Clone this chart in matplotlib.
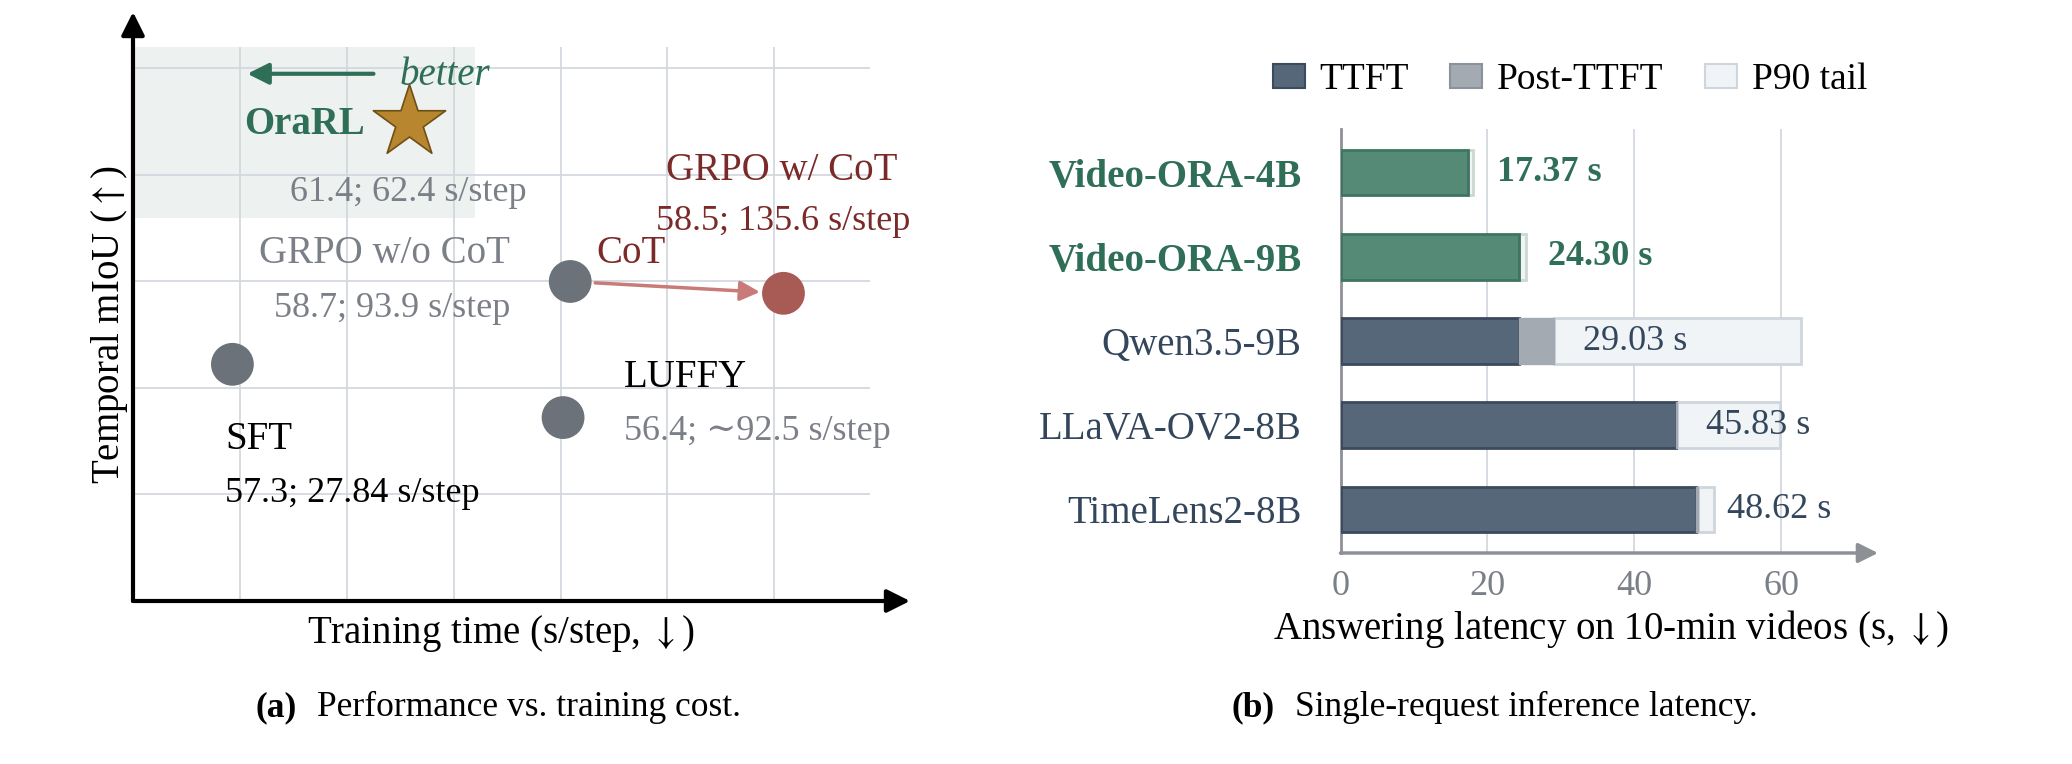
import matplotlib
matplotlib.use("Agg")
import matplotlib.pyplot as plt
import numpy as np

plt.rcParams['font.family'] = ['Liberation Serif', 'DejaVu Serif']
plt.rcParams['mathtext.fontset'] = 'stix'

# ---- (a) performance vs. training cost ----
methods = ['SFT', 'GRPO w/o CoT', 'LUFFY', 'GRPO w/ CoT', 'OraRL']
train_time = [27.84, 93.9, 92.5, 135.6, 62.4]
miou = [57.3, 58.7, 56.4, 58.5, 61.4]
time_labels = ['27.84', '93.9', '\u223c92.5', '135.6', '62.4']

# ---- (b) inference latency ----
models = ['Video-ORA-4B', 'Video-ORA-9B', 'Qwen3.5-9B', 'LLaVA-OV2-8B', 'TimeLens2-8B']
ours = [True, True, False, False, False]
ttft = [17.2, 24.1, 24.3, 45.7, 48.4]
post_ttft = [0.17, 0.2, 4.73, 0.13, 0.22]
p90_end = [18.0, 25.2, 62.7, 59.9, 50.9]
totals = [17.37, 24.30, 29.03, 45.83, 48.62]

GREEN = '#2f6f57'
GREY_TXT = '#7b7f87'
RED_TXT = '#7a2a28'
SLATE = '#33465c'

fig = plt.figure(figsize=(20.72, 7.64), dpi=100)

# grid geometry of panel (a): one grid cell = dx seconds, dy mIoU
x0, dx = 8.4, 20.9
y0, dy = 53.3, 1.8
def gx(k):
    return x0 + k * dx
def gy(k):
    return y0 + k * dy

ax = fig.add_axes([133 / 2072, 1 - 601 / 764, 777 / 2072, 589 / 764])
ax.set_xlim(gx(0), gx(7.27))
ax.set_ylim(gy(0), gy(5.53))
for s in ax.spines.values():
    s.set_visible(False)
ax.set_xticks([])
ax.set_yticks([])

ax.add_patch(plt.Rectangle((gx(0), gy(3.6)), 3.2 * dx, 1.6 * dy,
                           facecolor='#edf1ef', edgecolor='none', zorder=0))
ax.vlines([gx(k) for k in range(1, 7)], gy(0), gy(5.2), color='#d3d8df', lw=1.3, zorder=1)
ax.hlines([gy(k) for k in range(1, 6)], gx(0), gx(6.9), color='#d3d8df', lw=1.3, zorder=1)

ax.annotate('', xy=(gx(7.27), gy(0)), xytext=(gx(0), gy(0)), annotation_clip=False,
            arrowprops=dict(arrowstyle='-|>', lw=3, color='black', mutation_scale=35,
                            shrinkA=0, shrinkB=0))
ax.annotate('', xy=(gx(0), gy(5.53)), xytext=(gx(0), gy(0)), annotation_clip=False,
            arrowprops=dict(arrowstyle='-|>', lw=3, color='black', mutation_scale=35,
                            shrinkA=0, shrinkB=0))

# points
pt_col = ['#6c727a', '#6c727a', '#6c727a', '#a85a55']
ax.scatter(train_time[:4], miou[:4], s=950, c=pt_col, edgecolors='none', zorder=4)
ax.scatter(train_time[4], miou[4], s=3000, marker='*', c='#b8862e',
           edgecolors='#6e5016', linewidths=1.2, zorder=4)

# CoT arrow
ax.annotate('', xy=(train_time[3], miou[3]), xytext=(train_time[1], miou[1]),
            arrowprops=dict(arrowstyle='-|>', lw=2.5, color='#c87b78', mutation_scale=30,
                            shrinkA=18, shrinkB=17), zorder=3)
ax.text(gx(4.34), gy(3.26), 'CoT', color=RED_TXT, fontsize=28, ha='left', va='center')

# better arrow
ax.annotate('', xy=(gx(1.07), gy(4.95)), xytext=(gx(2.25), gy(4.95)),
            arrowprops=dict(arrowstyle='-|>', lw=3, color=GREEN, mutation_scale=32,
                            shrinkA=0, shrinkB=0))
ax.text(gx(2.49), gy(4.93), 'better', color=GREEN, fontsize=28, style='italic',
        ha='left', va='center')

def stat(i):
    return f'{miou[i]}; {time_labels[i]} s/step'

ax.text(gx(2.17), gy(4.47), methods[4], color=GREEN, fontsize=28, fontweight='bold',
        ha='right', va='center')
ax.text(gx(2.58), gy(3.84), stat(4), color=GREY_TXT, fontsize=26, ha='center', va='center')

ax.text(gx(3.53), gy(3.26), methods[1], color=GREY_TXT, fontsize=28, ha='right', va='center')
ax.text(gx(3.53), gy(2.75), stat(1), color=GREY_TXT, fontsize=26, ha='right', va='center')

ax.text(gx(6.07), gy(4.04), methods[3], color=RED_TXT, fontsize=28, ha='center', va='center')
ax.text(gx(6.08), gy(3.56), stat(3), color=RED_TXT, fontsize=26, ha='center', va='center')

ax.text(gx(4.59), gy(2.10), methods[2], color='black', fontsize=28, ha='left', va='center')
ax.text(gx(4.59), gy(1.59), stat(2), color=GREY_TXT, fontsize=26, ha='left', va='center')

ax.text(gx(0.86), gy(1.52), methods[0], color='black', fontsize=28, ha='left', va='center')
ax.text(gx(0.86), gy(1.01), stat(0), color='black', fontsize=26, ha='left', va='center')

fig.text(109 / 2072, 1 - 325 / 764, r'Temporal mIoU ($\uparrow$)', rotation=90,
         fontsize=28, ha='center', va='center')
fig.text(501 / 2072, 1 - 634 / 764, r'Training time (s/step, $\downarrow$)',
         fontsize=28, ha='center', va='center')
fig.text(297 / 2072, 1 - 716 / 764, '(a)', fontsize=25.5, fontweight='bold',
         ha='right', va='baseline')
fig.text(317 / 2072, 1 - 716 / 764, 'Performance vs. training cost.', fontsize=25.5,
         ha='left', va='baseline')

# ---- panel (b) ----
bx = fig.add_axes([1340.5 / 2072, 1 - 553 / 764, (1878 - 1340.5) / 2072, (553 - 129) / 764])
ypos = np.arange(len(models))
bx.set_xlim(0, 73.2)
bx.set_ylim(4.52, -0.52)
for s in ['top', 'right', 'bottom']:
    bx.spines[s].set_visible(False)
bx.spines['left'].set_color('#8d9196')
bx.spines['left'].set_linewidth(2)
bx.vlines([20, 40, 60], -0.52, 4.52, color='#d3d8df', lw=1.3, zorder=0)
bx.annotate('', xy=(73.2, 4.52), xytext=(0, 4.52), annotation_clip=False,
            arrowprops=dict(arrowstyle='-|>', lw=2.5, color='#8d9196', mutation_scale=30,
                            shrinkA=0, shrinkB=0))

h = 0.54
for i in range(len(models)):
    main_col = '#558a77' if ours[i] else '#566779'
    main_edge = '#3d7560' if ours[i] else '#3b4a5c'
    tail_edge = '#cbd8d2' if ours[i] else '#cfd5dc'
    total = ttft[i] + post_ttft[i]
    bx.barh(ypos[i], p90_end[i] - total, left=total, height=h, color='#f1f4f7',
            edgecolor=tail_edge, linewidth=2, zorder=2)
    if ours[i]:
        bx.barh(ypos[i], total, height=h, color=main_col, edgecolor=main_edge,
                linewidth=2, zorder=3)
    else:
        bx.barh(ypos[i], ttft[i], height=h, color=main_col, edgecolor=main_edge,
                linewidth=2, zorder=3)
        bx.barh(ypos[i], post_ttft[i], left=ttft[i], height=h, color='#a3aab2',
                edgecolor='#a3aab2', linewidth=1, zorder=3)
    bx.text(totals[i] + 4.0, ypos[i], f'{totals[i]:.2f} s', fontsize=26,
            color=GREEN if ours[i] else SLATE, fontweight='bold' if ours[i] else 'normal',
            ha='left', va='center', zorder=5)

bx.set_yticks(ypos)
bx.set_yticklabels(models, fontsize=28)
for lab, o in zip(bx.get_yticklabels(), ours):
    lab.set_color(GREEN if o else SLATE)
    if o:
        lab.set_fontweight('bold')
bx.tick_params(axis='y', length=0, pad=28)
bx.set_xticks([0, 20, 40, 60])
bx.tick_params(axis='x', length=0, pad=12, labelsize=26, labelcolor='#7b7f87')
fig.text(1611 / 2072, 1 - 629 / 764, r'Answering latency on 10-min videos (s, $\downarrow$)',
         fontsize=28, ha='center', va='center')

handles = [plt.Rectangle((0, 0), 1, 1, facecolor='#566779', edgecolor='#3b4a5c', lw=1.5),
           plt.Rectangle((0, 0), 1, 1, facecolor='#a3aab2', edgecolor='#8a929c', lw=1.5),
           plt.Rectangle((0, 0), 1, 1, facecolor='#f1f4f7', edgecolor='#cfd5dc', lw=1.5)]
fig.legend(handles, ['TTFT', 'Post-TTFT', 'P90 tail'], loc='center',
           bbox_to_anchor=(1570 / 2072, 1 - 80 / 764), ncol=3, frameon=False,
           fontsize=27, handlelength=0.85, handleheight=0.57, handletextpad=0.4,
           columnspacing=1.1, borderpad=0)

fig.text(1275 / 2072, 1 - 716 / 764, '(b)', fontsize=25.5, fontweight='bold',
         ha='right', va='baseline')
fig.text(1295 / 2072, 1 - 716 / 764, 'Single-request inference latency.', fontsize=25.5,
         ha='left', va='baseline')

fig.savefig('out.png', dpi=100)
